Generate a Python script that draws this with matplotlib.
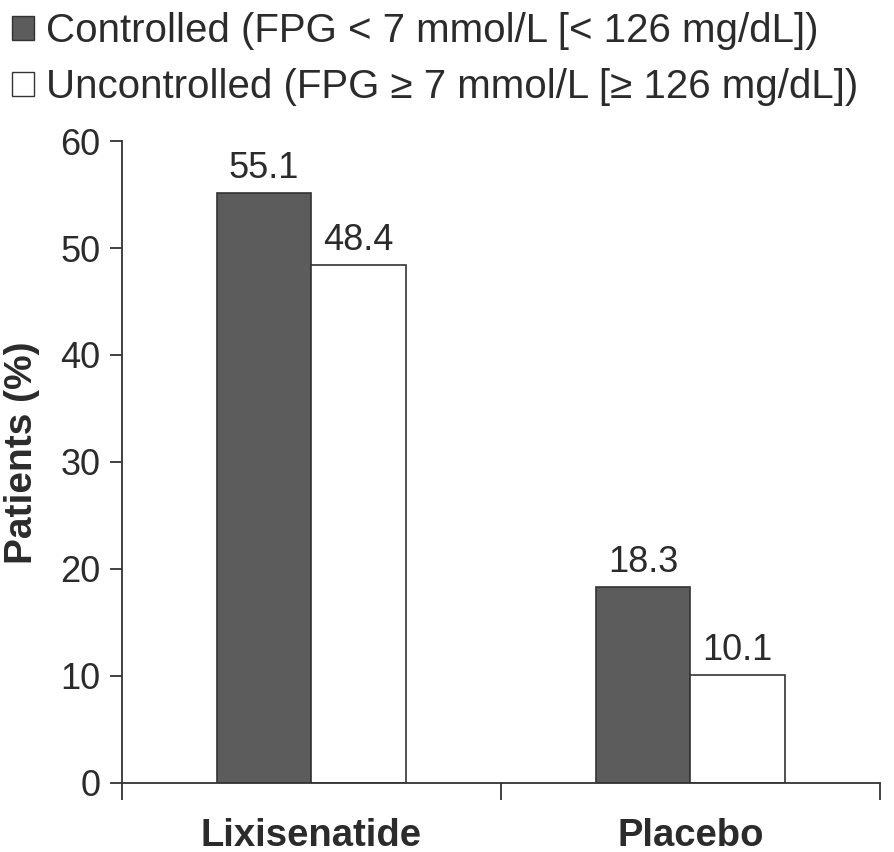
import numpy as np
import matplotlib.pyplot as plt
from matplotlib.patches import Patch

# Data
groups = ["Lixisenatide", "Placebo"]
controlled = [55.1, 18.3]
uncontrolled = [48.4, 10.1]
series_labels = ["Controlled (FPG < 7 mmol/L [< 126 mg/dL])",
                 "Uncontrolled (FPG \u2265 7 mmol/L [\u2265 126 mg/dL])"]

plt.rcParams['font.family'] = ['Liberation Sans', 'DejaVu Sans']
txt = "#2b2b2b"
dark = "#5c5c5c"

fig = plt.figure(figsize=(8.94, 8.52), dpi=100)
ax = fig.add_axes([0.1365, 0.081, 0.8475, 0.7535])

x = np.arange(len(groups))
w = 0.25
ax.bar(x - w / 2, controlled, w, color=dark, edgecolor="#333333", linewidth=1.2)
ax.bar(x + w / 2, uncontrolled, w, color="white", edgecolor="#333333", linewidth=1.2)

# value labels above the bars
for i in range(len(groups)):
    ax.annotate(f"{controlled[i]:.1f}", (x[i] - w / 2, controlled[i]), xytext=(0, 11),
                textcoords="offset points", ha="center", va="baseline",
                fontsize=26, color=txt)
    ax.annotate(f"{uncontrolled[i]:.1f}", (x[i] + w / 2, uncontrolled[i]), xytext=(0, 11),
                textcoords="offset points", ha="center", va="baseline",
                fontsize=26, color=txt)

ax.set_xlim(-0.5, 1.5)
ax.set_ylim(0, 60)
ax.set_yticks(range(0, 61, 10))
ax.set_xticks([-0.5, 0.5, 1.5])
ax.set_xticklabels([])
ax.set_xticks(x, minor=True)
ax.set_xticklabels(groups, minor=True, fontsize=27.5, fontweight="bold", color=txt)
ax.tick_params(axis="x", which="minor", length=0, pad=25)
ax.tick_params(axis="x", which="major", length=12, width=1.3, color="#333333")
ax.tick_params(axis="y", length=8.5, width=1.3, color="#333333", labelsize=26,
               labelcolor=txt, pad=7)

for s in ["top", "right"]:
    ax.spines[s].set_visible(False)
for s in ["left", "bottom"]:
    ax.spines[s].set_linewidth(1.3)
    ax.spines[s].set_color("#333333")

ax.set_ylabel("Patients (%)", fontsize=28, fontweight="bold", color=txt)
ax.yaxis.set_label_coords(-0.108, 0.515)

handles = [Patch(facecolor=dark, edgecolor="#333333"),
           Patch(facecolor="white", edgecolor="#333333")]
fig.legend(handles, series_labels, loc="upper left", bbox_to_anchor=(0.0, 1.0),
           frameon=False, fontsize=29, labelcolor=txt, handlelength=0.55,
           handleheight=0.55, handletextpad=0.3, labelspacing=0.45, borderaxespad=0.1,
           borderpad=0.2)

fig.savefig("out.png", dpi=100)
